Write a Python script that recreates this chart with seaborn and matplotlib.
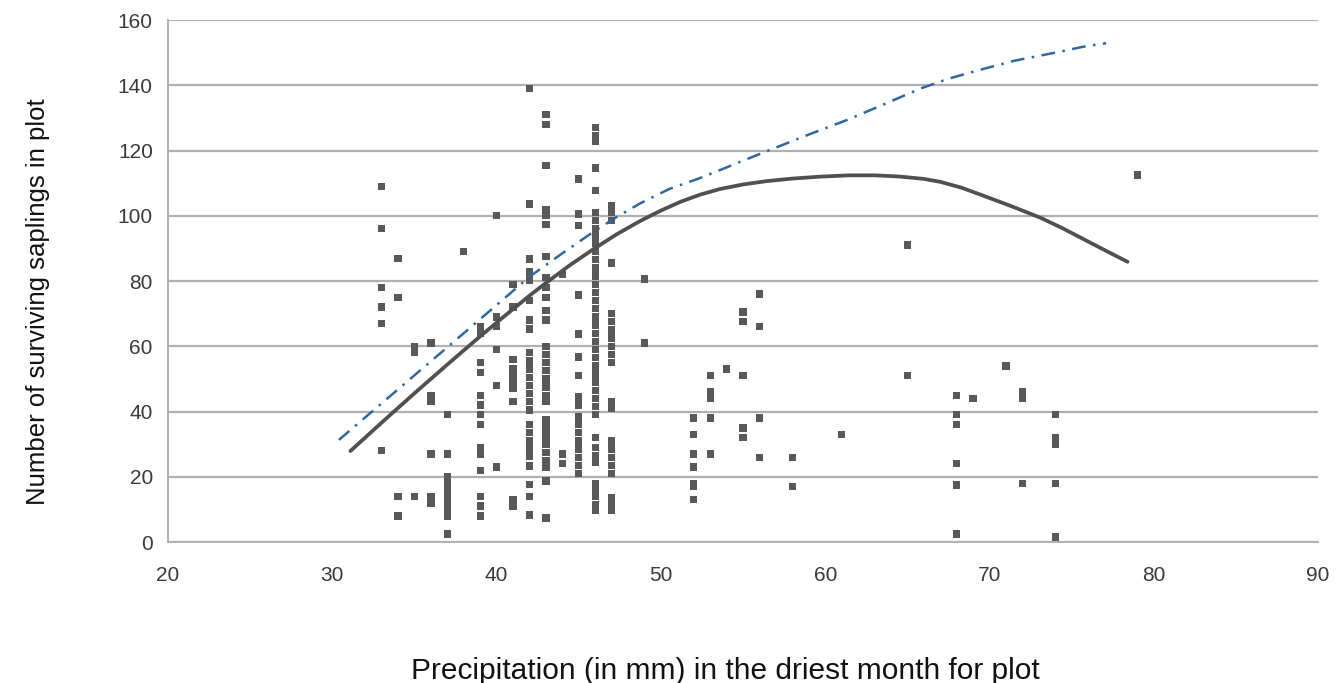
import numpy as np
import pandas as pd
import matplotlib
matplotlib.use("Agg")
import matplotlib.pyplot as plt
import seaborn as sns

# precipitation (mm) of each plot column, and the surviving saplings counted at it
precip_mm = [33, 34, 35, 36, 37, 38, 39, 40, 41, 42, 43, 44, 45, 46, 47, 49,
             52, 53, 54, 55, 56, 58, 61, 65, 68, 69, 71, 72, 74, 79]
saplings = [
    [109, 96, 78, 72, 67, 28],
    [87, 75, 14, 8],
    [60, 58, 14],
    [61, 45, 43, 27, 14, 12],
    [39, 27, 20, 18, 16, 14, 12, 10, 8, 2.5],
    [89],
    [66, 64, 55, 52, 45, 42, 39, 36, 29, 27, 22, 14, 11, 8],
    [100, 69, 66, 59, 48, 23],
    [79, 72, 56, 53, 51, 49, 47, 43, 13, 11],
    [139, 103.6, 86.7, 82.8, 80.3, 74, 68, 65.3, 58, 55.5, 53, 50.5, 48, 45.5,
     43, 40.5, 36, 33.5, 31, 28.5, 26.4, 23.3, 17.6, 14, 8.3],
    [131, 128, 115.5, 102, 100, 97.4, 87.5, 81, 78, 75, 71, 68, 60, 57.5, 55,
     52.5, 50, 47.5, 45, 43, 37.4, 35, 32.5, 30, 27.5, 25, 22.8, 18.7, 7.4],
    [82, 27, 24],
    [111.3, 100.5, 97, 75.7, 63.8, 56.7, 51, 44.5, 42, 38.3, 36, 33.5, 31,
     28.5, 26, 23.5, 21],
    [127, 124.5, 122.7, 114.6, 107.7, 101, 98.5, 96, 93.8, 91.5, 89, 86.5, 84,
     81.5, 79, 76.5, 74, 71.5, 69, 66.5, 64, 61.5, 59, 56.5, 54, 51.5, 49,
     46.5, 44, 41.5, 39, 32, 29, 26.4, 24.3, 18, 15.6, 14, 11.5, 9.8],
    [103, 101, 98.5, 85.5, 70, 67.5, 65, 62.5, 60, 57.5, 55, 43, 41, 31, 28.5,
     26, 23.5, 21, 13.5, 11, 9.8],
    [80.6, 61],
    [38, 33, 27, 23, 18, 17, 13],
    [51, 46, 44, 38, 27],
    [53],
    [70.5, 67.5, 51, 35, 32],
    [76, 66, 38, 26],
    [26, 17],
    [33],
    [91, 51],
    [45, 39, 36, 24, 17.5, 2.5],
    [44],
    [54],
    [46, 44, 18],
    [39, 32, 30, 18, 1.5],
    [112.5],
]

# fitted curves
fit_x = [31.1, 33, 35, 37, 38.8, 40.2, 42, 43, 44.5, 45.9, 47.3, 48.7, 50, 51.2,
         52.4, 53.6, 55, 56.4, 58, 59.7, 61.5, 63, 64.6, 66, 67, 68.3, 69.6,
         71.3, 73.1, 74.4, 75.7, 77, 78.4]
fit_y = [27.9, 36.6, 45.6, 54.4, 62.2, 68.1, 75.5, 79.4, 85.0, 89.8, 94.3, 98.3,
         101.6, 104.3, 106.5, 108.2, 109.6, 110.6, 111.4, 112.0, 112.4, 112.4,
         112.0, 111.3, 110.4, 108.6, 106.2, 103.0, 99.4, 96.3, 92.9, 89.5, 85.9]
model_x = [30.4, 32, 34, 36, 38, 40.2, 42, 44, 45.9, 47.3, 48.7, 50.5, 52.4,
           53.6, 55, 56.8, 59, 61.3, 63.5, 65.8, 67.5, 69.4, 71.5, 74.3, 75.7, 77.1]
model_y = [31.3, 38.2, 46.8, 55.4, 64, 73.5, 81.3, 88.5, 95.1, 99.6, 103.7,
           108.2, 111.6, 114, 116.9, 120.5, 124.9, 129.3, 134, 139, 142, 144.7,
           147.5, 150.3, 151.8, 152.9]

rows = [(x, y) for x, ys in zip(precip_mm, saplings) for y in ys]
df = pd.DataFrame(rows, columns=["precip", "saplings"])
fit_df = pd.DataFrame({"x": fit_x, "y": fit_y})
model_df = pd.DataFrame({"x": model_x, "y": model_y})

sns.set_style("white")
plt.rcParams["font.family"] = ["Liberation Sans", "DejaVu Sans"]

fig = plt.figure(figsize=(13.38, 6.83), dpi=100)
ax = fig.add_axes([0.1256, 0.2064, 0.8595, 0.7643])

sns.scatterplot(data=df, x="precip", y="saplings", marker="s", s=28,
                color="#595959", edgecolor="none", ax=ax, zorder=3)
sns.lineplot(data=fit_df, x="x", y="y", sort=False, estimator=None,
             color="#505050", lw=2.7, ax=ax, zorder=4)
sns.lineplot(data=model_df, x="x", y="y", sort=False, estimator=None,
             color="#2f67a3", lw=1.8, linestyle=(0, (5.5, 3, 1, 3)), ax=ax, zorder=4)

ax.set_xlim(20, 90)
ax.set_ylim(0, 160)
ax.set_xticks(range(20, 91, 10))
ax.set_yticks(range(0, 161, 20))
ax.yaxis.grid(True, color="#b0b0b0", lw=1.6)
ax.set_axisbelow(True)

for s in ["top", "right"]:
    ax.spines[s].set_visible(False)
for s in ["left", "bottom"]:
    ax.spines[s].set_color("#b0b0b0")
    ax.spines[s].set_linewidth(1.4)

ax.tick_params(axis="both", which="both", length=5, width=1.2, color="#b0b0b0",
               labelsize=15, labelcolor="#3a3a3a")
ax.tick_params(axis="x", pad=12)
ax.tick_params(axis="y", pad=6)

ax.set_xlabel("Precipitation (in mm) in the driest month for plot", fontsize=21.5, color="#111111")
ax.set_ylabel("Number of surviving saplings in plot", fontsize=18.5, color="#111111")
ax.xaxis.set_label_coords(0.485, -0.221)
ax.yaxis.set_label_coords(-0.1026, 0.46)

fig.savefig("out.png", dpi=100)
